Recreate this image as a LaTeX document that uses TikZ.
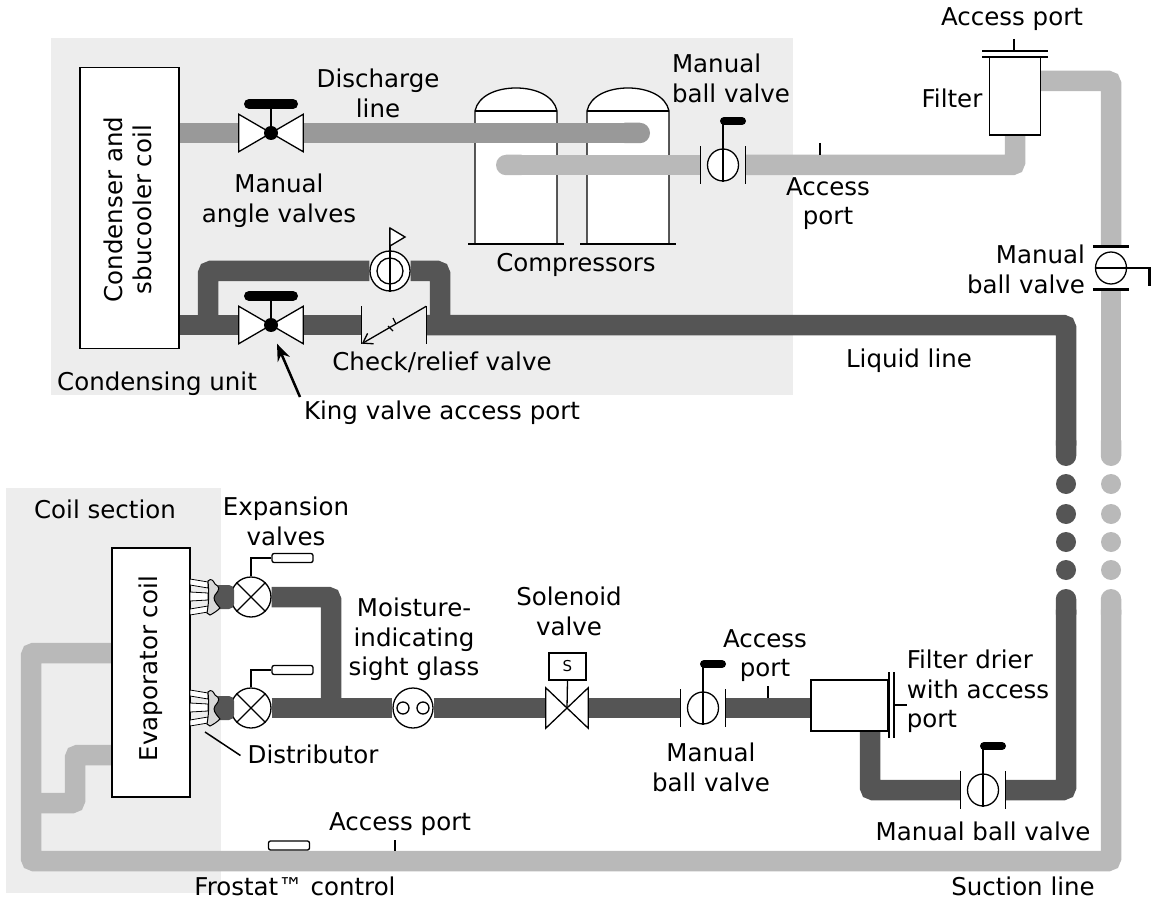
\documentclass[tikz,border=0pt]{standalone}
\usepackage{fontspec}
\setmainfont{DejaVu Sans}
\usetikzlibrary{arrows.meta,backgrounds,shapes.geometric}

\definecolor{panelgray}{HTML}{EDEDED}
\definecolor{suctiongray}{HTML}{B9B9B9}
\definecolor{dischargegray}{HTML}{999999}
\definecolor{liquidgray}{HTML}{555555}

% ball valve: name, x, y
\newcommand{\ballvalve}[3]{
    \node[flanges] (#1) at (#2,#3) {};
    \node[ball] (#1ball) at (#1) {};
    \draw[part] (#1.north west) -- (#1.south west);
    \draw[part] (#1.north east) -- (#1.south east);
    \draw[part, line width=1.6pt] (#1ball.south) -- ++(0,-64);
    \draw[handle, line width=8pt] (#2+1,#3-44) -- ++(18,0);
}
% angle valve: name, x, y
\newcommand{\anglevalve}[3]{
    \node[valvebody] (#1) at (#2,#3) {};
    \draw[part, fill=white] (#1.north west) -- (#1.center) -- (#1.south west) -- cycle;
    \draw[part, fill=white] (#1.north east) -- (#1.center) -- (#1.south east) -- cycle;
    \draw[part, line width=1.8pt] (#1.center) -- ++(0,-29);
    \draw[handle, line width=10pt] (#2-22,#3-29) -- ++(44,0);
    \fill (#1.center) circle (7);
}

\begin{document}
\begin{tikzpicture}[x=1pt, y=-1pt,
    lbl/.style={font=\fontsize{24.5}{29.5}\selectfont, inner sep=0pt, align=center, yshift=-1.5pt},
    part/.style={draw=black, line width=1.3pt},
    box/.style={draw=black, line width=1.3pt, fill=white, inner sep=0pt},
    flanges/.style={minimum width=44pt, minimum height=37pt, inner sep=0pt},
    ball/.style={ellipse, draw=black, line width=1.3pt, fill=white, minimum width=31pt, minimum height=32pt, inner sep=0pt},
    valvebody/.style={minimum width=64pt, minimum height=37pt, inner sep=0pt},
    handle/.style={draw=black, line cap=round},
    pipe/.style={line width=20.5pt, rounded corners=3pt},
    suction/.style={pipe, draw=suctiongray},
    discharge/.style={pipe, draw=dischargegray},
    liquid/.style={pipe, draw=liquidgray},
    bulb/.style={draw=black, line width=1.3pt, fill=white, rounded corners=2pt, minimum width=41pt, minimum height=9pt, inner sep=0pt}]
    \useasboundingbox (0,0) rectangle (1151,901);

    % Condensing unit
    \node[box, minimum width=99pt, minimum height=281pt] (condenser) at (129.5,208) {};
    \node[lbl, rotate=90] (condenserText) at (128,208) {Condenser and\\sbucooler coil};
    \anglevalve{dischargeValve}{271}{133}
    \anglevalve{kingValve}{271}{325}
    \node[flanges, minimum width=64pt] (checkValve) at (394,325) {};
    \draw[part] (checkValve.north west) -- (checkValve.south west);
    \draw[part] (checkValve.north east) -- (checkValve.south east);
    \draw[part, -{Straight Barb[length=9pt,width=12pt]}] (checkValve.north east) -- (checkValve.south west);
    \draw[part] (393,318) -- (396,324) (388,326) -- (393,331);
    \node[circle, draw=black, line width=1.3pt, fill=white, minimum size=40pt, inner sep=0pt] (reliefValve) at (390,271) {};
    \draw[part] (reliefValve) circle (13);
    \draw[part] (reliefValve.south) -- (390,228);
    \draw[part, fill=white] (390,228) -- (405,237) -- (390,246) -- cycle;
    \ballvalve{compressorValve}{723}{165}

    % Top right
    \node[box, minimum width=51pt, minimum height=78pt] (filter) at (1015,96) {};
    \draw[part] (982,57) -- (1048,57) (982,51) -- (1048,51);
    \draw[part, line width=2pt] (989,135) -- (1041,135);
    \draw[part, line width=2pt] (1014,39) -- (1014,51);
    \node[flanges, minimum width=36pt, minimum height=43pt] (riserValve) at (1111,268) {};
    \node[ball] (riserValveball) at (riserValve) {};
    \draw[part, line width=2.5pt] (riserValve.north west) -- (riserValve.north east);
    \draw[part, line width=2.5pt] (riserValve.south west) -- (riserValve.south east);
    \draw[part, line width=1.6pt] (riserValveball.west) -- (1151,268);
    \draw[part, line width=3pt] (1149.5,268) -- (1149.5,286);
    \draw[part, line width=2pt] (820,143) -- (820,155);

    % Coil section
    \node[box, minimum width=78pt, minimum height=249pt] (evapCoil) at (151,672.5) {};
    \node[lbl, rotate=90] (evapText) at (151,667) {Evaporator coil};
    \node[box, circle, minimum size=40pt] (expValveA) at (251,597) {};
    \node[box, circle, minimum size=40pt] (expValveB) at (251,708) {};
    \foreach \nm in {expValveA,expValveB}
        \draw[part] (\nm.45) -- (\nm.225) (\nm.135) -- (\nm.315);
    \node[bulb] (bulbA) at (292.5,558) {};
    \node[bulb] (bulbB) at (292.5,670) {};
    \draw[part] (expValveA.north) |- (bulbA.west);
    \draw[part] (expValveB.north) |- (bulbB.west);
    % Distributors
    \foreach \yc in {597,708} {
        \begin{scope}[yshift=-\yc pt]
            \fill[liquidgray, rounded corners=5pt] (214,-12) -- (234,-12) -- (234,12) -- (214,12) -- cycle;
            \draw[part, line width=0.8pt, fill=white] (190,-18) -- (208,-15) -- (208,-9) -- (190,-12) -- cycle;
            \draw[part, line width=0.8pt, fill=white] (190,-5) -- (208,-4) -- (208,3) -- (190,4) -- cycle;
            \draw[part, line width=0.8pt, fill=white] (190,12) -- (208,9) -- (208,15) -- (190,18) -- cycle;
            \draw[part, line width=1pt, fill=black!15] (208,-16) .. controls (211,-19) and (213,-17) .. (215,-13) .. controls (220,-10) and (220,-8) .. (215,-2) .. controls (213,2) and (214,4) .. (220,11) .. controls (217,14) and (214,16) .. (210,18) -- (207,16) .. controls (209,6) and (209,-6) .. (208,-16) -- cycle;
        \end{scope}
    }

    % Liquid line components
    \node[box, circle, minimum size=40pt] (sightGlass) at (413,708) {};
    \draw[part] (403,708) circle (6) (423,708) circle (6);
    \node[valvebody, minimum width=42pt, minimum height=40pt] (solenoid) at (567,708) {};
    \draw[part, fill=white] (solenoid.north west) -- (solenoid.center) -- (solenoid.south west) -- cycle;
    \draw[part, fill=white] (solenoid.north east) -- (solenoid.center) -- (solenoid.south east) -- cycle;
    \node[box, minimum width=37pt, minimum height=27pt, font=\fontsize{15}{15}\selectfont] (solenoidCoil) at (567.5,666.5) {S};
    \draw[part] (solenoidCoil.south) -- (solenoid.center);
    \ballvalve{liquidValve}{703}{708}
    \draw[part, line width=2pt] (768,686) -- (768,698);
    \node[box, minimum width=77pt, minimum height=51pt] (drier) at (849.5,705.5) {};
    \draw[part] (889,672) -- (889,738) (894,672) -- (894,738);
    \draw[part, line width=2pt] (895,705) -- (907,705);
    \ballvalve{drierValve}{983}{790}

    % Suction line extras
    \node[bulb] (frostat) at (289,845.5) {};
    \draw[part, line width=2pt] (395,840) -- (395,851);

    % Labels
    \node[lbl] (dischargeLabel) at (378,92) {Discharge\\line};
    \node[lbl] (angleLabel) at (279,199) {Manual\\angle valves};
    \node[lbl] (compressorsLabel) at (576,263) {Compressors};
    \node[lbl, align=left] (compValveLabel) at (731,77) {Manual\\ball valve};
    \node[lbl] (portLabelA) at (828,202) {Access\\port};
    \node[lbl] (portLabelB) at (1012,18) {Access port};
    \node[lbl] (filterLabel) at (952,97) {Filter};
    \node[lbl, align=right] (riserValveLabel) at (1026,268) {Manual\\ball valve};
    \node[lbl] (liquidLabel) at (909,359) {Liquid line};
    \node[lbl] (checkLabel) at (442,361) {Check/relief valve};
    \node[lbl] (unitLabel) at (157,382) {Condensing unit};
    \node[lbl] (kingLabel) at (442,411) {King valve access port};
    \node[lbl] (coilLabel) at (105,508) {Coil section};
    \node[lbl] (expLabel) at (286,520) {Expansion\\valves};
    \node[lbl] (sightLabel) at (414,638) {Moisture-\\indicating\\sight glass};
    \node[lbl] (solenoidLabel) at (569,610) {Solenoid\\valve};
    \node[lbl] (portLabelC) at (765,654) {Access\\port};
    \node[lbl] (liquidValveLabel) at (711,766) {Manual\\ball valve};
    \node[lbl, align=left] (drierLabel) at (978,690) {Filter drier\\with access\\port};
    \node[lbl] (drierValveLabel) at (983,830) {Manual ball valve};
    \node[lbl] (distLabel) at (313,753) {Distributor};
    \node[lbl] (portLabelD) at (400,823) {Access port};
    \node[lbl] (frostatLabel) at (295,885) {Frostat™ control};
    \node[lbl] (suctionLabel) at (1023,885) {Suction line};

    % Arrow
    \coordinate (kingTail) at (300,397);
    \draw[line width=2.5pt, -{Stealth[length=17pt,width=13pt]}] (kingTail) -- ([xshift=6pt]kingValve.south);
    \coordinate (distTip) at (205,732);
    \draw[line width=1.5pt] ([xshift=-7pt,yshift=-1pt]distLabel.west) -- (distTip);

    % Dots
    \foreach \yy in {484,514,542,570} {
        \fill[liquidgray] (1066,\yy) circle (10);
        \fill[suctiongray] (1111,\yy) circle (10);
    }

    % Panels, compressors and pipes
    \begin{scope}[on background layer]
        \fill[panelgray] (51,38) rectangle (793,395);
        \fill[panelgray] (6,488) rectangle (221,893);
        \foreach \xc in {516,628} {
            \draw[part, fill=white] (\xc-41,243) -- (\xc-41,111) .. controls (\xc-38,96) and (\xc-20,88) .. (\xc,88) .. controls (\xc+20,88) and (\xc+38,96) .. (\xc+41,111) -- (\xc+41,243);
            \draw[part] (\xc-41,111) -- (\xc+41,111);
            \draw[part, line width=2.5pt] (\xc-48,244) -- (\xc+48,244);
        }

        % Discharge line
        \draw[discharge] (condenser.east |- dischargeValve) -- (dischargeValve.west);
        \draw[discharge, -{Round Cap[]}] (dischargeValve.east) -- (650,133);

        % Suction line
        \coordinate (suctionTop) at (1111,81);
        \coordinate (suctionBreak) at (1111,466);
        \coordinate (suctionResume) at (1111,589);
        \draw[suction, {Round Cap[]}-] (496,165) -- (compressorValve.west);
        \draw[suction] (compressorValve.east) -| (filter.south);
        \draw[suction] (filter.east |- suctionTop) -- (suctionTop) -- (riserValve.north);
        \draw[suction, -{Round Cap[]}] (riserValve.south) -- (suctionBreak);
        \draw[suction, {Round Cap[]}-] (suctionResume) -- (1111,861) -- (31,861) -- (31,653) -- (evapCoil.west |- 0,653);
        \draw[suction] (evapCoil.west |- 0,755) -- (75,755) -- (75,803) -- (31,803);

        % Liquid line
        \coordinate (liquidBreak) at (1066,466);
        \coordinate (liquidResume) at (1066,589);
        \draw[liquid] (condenser.east |- kingValve) -- (kingValve.west);
        \draw[liquid] (kingValve.east) -- (checkValve.west);
        \draw[liquid, -{Round Cap[]}] (checkValve.east) -- (1066,325) -- (liquidBreak);
        \draw[liquid] (208,325) -- (208,271) -- (reliefValve.west);
        \draw[liquid] (reliefValve.east) -- (440,271) -- (440,325);
        \draw[liquid] (expValveA.east) -- (331,597) -- (331,708);
        \draw[liquid] (expValveB.east) -- (sightGlass.west);
        \draw[liquid] (sightGlass.east) -- (solenoid.west);
        \draw[liquid] (solenoid.east) -- (liquidValve.west);
        \draw[liquid] (liquidValve.east) -- (liquidValve.east -| drier.west);
        \draw[liquid] (870,731) -- (870,790) -- (drierValve.west);
        \draw[liquid, -{Round Cap[]}] (drierValve.east) -- (1066,790) -- (liquidResume);
    \end{scope}
\end{tikzpicture}
\end{document}
